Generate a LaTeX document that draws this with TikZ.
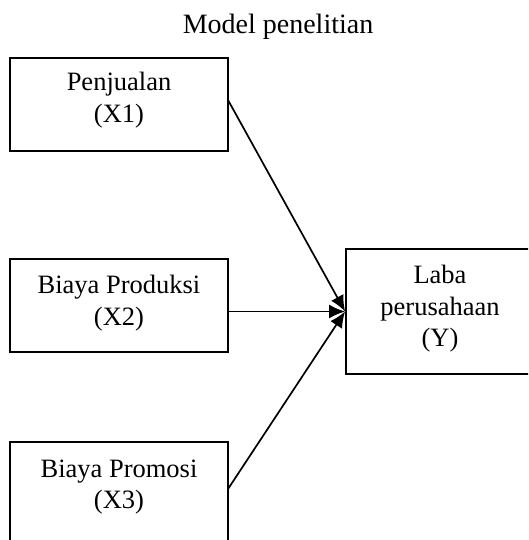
\documentclass[tikz,border=0pt]{standalone}
\usepackage{fontspec}
\setmainfont{Liberation Serif}
\usetikzlibrary{arrows.meta}
\begin{document}
\begin{tikzpicture}[x=1pt,y=-1pt,
  txt/.style={font=\fontsize{26.5}{31.5}\selectfont, align=center},
  box/.style={draw, line width=1.8pt, minimum width=218pt, inner sep=0pt, txt},
  link/.style={line width=1.7pt, -{Latex[length=16pt,width=14pt]}},
  every node/.style={anchor=center}]
  \useasboundingbox (0,0) rectangle (528,540);
  \begin{scope}
  \clip (0,0) rectangle (528,540);
  % title
  \node[font=\fontsize{28}{32}\selectfont] (title) at (278,27) {Model penelitian};
  % predictor boxes
  \node[box, minimum height=93pt] (x1) at (119,104.5) {};
  \node[txt] (x1t) at (119,100) {Penjualan\\(X1)};
  \node[box, minimum height=93pt] (x2) at (119,305.5) {};
  \node[txt] (x2t) at (119,303) {Biaya Produksi\\(X2)};
  \node[box, minimum height=120pt] (x3) at (119,502) {};
  \node[txt] (x3t) at (119,487) {Biaya Promosi\\(X3)};
  % outcome box
  \node[box, minimum width=188pt, minimum height=125pt] (y) at (440,311.5) {};
  \node[txt] (yt) at (440,309) {Laba\\perusahaan\\(Y)};
  \end{scope}
  % connectors
  \coordinate (s1) at (228,100);
  \coordinate (s3) at (228,489);
  \draw[link] (s1) -- (y.west);
  \draw[link] (x2.east |- y.west) -- (y.west);
  \draw[link] (s3) -- (y.west);
\end{tikzpicture}
\end{document}
